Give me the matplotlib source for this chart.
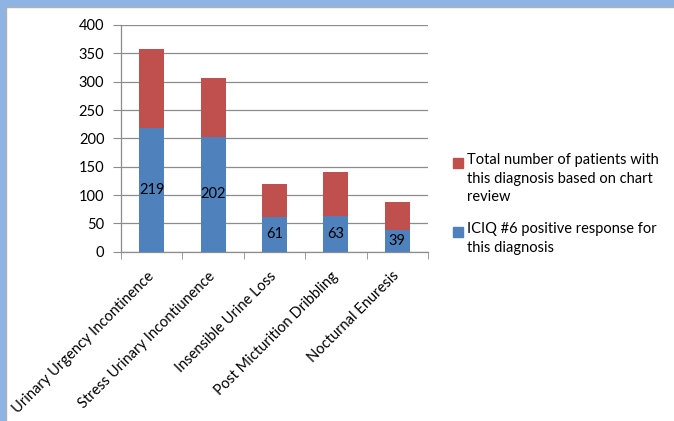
import matplotlib.pyplot as plt
from matplotlib.patches import Rectangle
import numpy as np

plt.rcParams['font.family'] = ['Lato', 'DejaVu Sans']

# data
categories = ['Urinary Urgency Incontinence', 'Stress Urinary Incontiunence',
              'Insensible Urine Loss', 'Post Micturition Dribbling', 'Nocturnal Enuresis']
icqi_positive = [219, 202, 61, 63, 39]
chart_total_extra = [138, 105, 58, 77, 48]
yticks = [0, 50, 100, 150, 200, 250, 300, 350, 400]

label_red = 'Total number of patients with\nthis diagnosis based on chart\nreview'
label_blue = 'ICIQ #6 positive response for\nthis diagnosis'

blue = '#4F81BD'
red = '#C0504D'
grid_col = '#8C8C8C'
fs = 10.5

W, H = 674, 421
fig = plt.figure(figsize=(W / 100, H / 100), dpi=100)

# axes placed by pixel coords
x0, x1, y0, y1 = 121, 428, 251.7, 25
ax = fig.add_axes([x0 / W, 1 - y0 / H, (x1 - x0) / W, (y0 - y1) / H])

x = np.arange(len(categories))
ax.bar(x, icqi_positive, width=0.41, color=blue, zorder=3)
ax.bar(x, chart_total_extra, width=0.41, bottom=icqi_positive, color=red, zorder=3)

for xi, v in zip(x, icqi_positive):
    ax.text(xi, v / 2, str(v), ha='center', va='center', fontsize=fs, color='black', zorder=4)

ax.set_xlim(-0.5, len(categories) - 0.5)
ax.set_ylim(0, 400)
ax.set_yticks(yticks)
ax.yaxis.grid(True, color=grid_col, linewidth=0.9, zorder=0)

for s in ['top', 'right']:
    ax.spines[s].set_visible(False)
for s in ['left', 'bottom']:
    ax.spines[s].set_color(grid_col)
    ax.spines[s].set_linewidth(0.9)

ax.tick_params(axis='y', length=6, color=grid_col, labelsize=fs, pad=6, labelcolor='black')
ax.set_xticks(x)
ax.set_xticklabels(categories, rotation=45, ha='right', va='center',
                   rotation_mode='anchor', fontsize=fs)
ax.tick_params(axis='x', length=0, pad=16)
ax.set_xticks(np.arange(-0.5, len(categories)), minor=True)
ax.tick_params(axis='x', which='minor', length=5, color=grid_col)

# legend drawn by hand so the square sits on the first line
def legend_item(ypix, color, text):
    fig.patches.append(Rectangle((453 / W, 1 - (ypix + 5) / H), 10 / W, 10 / H,
                                 transform=fig.transFigure, color=color, figure=fig))
    fig.text(467 / W, 1 - (ypix - 10) / H, text, ha='left', va='top', fontsize=fs,
             linespacing=1.42)

legend_item(163, red, label_red)
legend_item(232, blue, label_blue)

# window border like the screenshot
fig.patches.append(Rectangle((0, 1 - 6 / H), 1, 6 / H, transform=fig.transFigure,
                             color='#8DB4E2', figure=fig, zorder=0))
fig.patches.append(Rectangle((0, 0), 5 / W, 1, transform=fig.transFigure,
                             color='#8DB4E2', figure=fig, zorder=0))
fig.lines.append(plt.Line2D([5.5 / W, 1], [1 - 6.5 / H, 1 - 6.5 / H], transform=fig.transFigure,
                            color='#B0B0B0', linewidth=1, figure=fig))
fig.lines.append(plt.Line2D([5.5 / W, 5.5 / W], [0, 1 - 6.5 / H], transform=fig.transFigure,
                            color='#B0B0B0', linewidth=1, figure=fig))

fig.savefig('out.png', dpi=100)
